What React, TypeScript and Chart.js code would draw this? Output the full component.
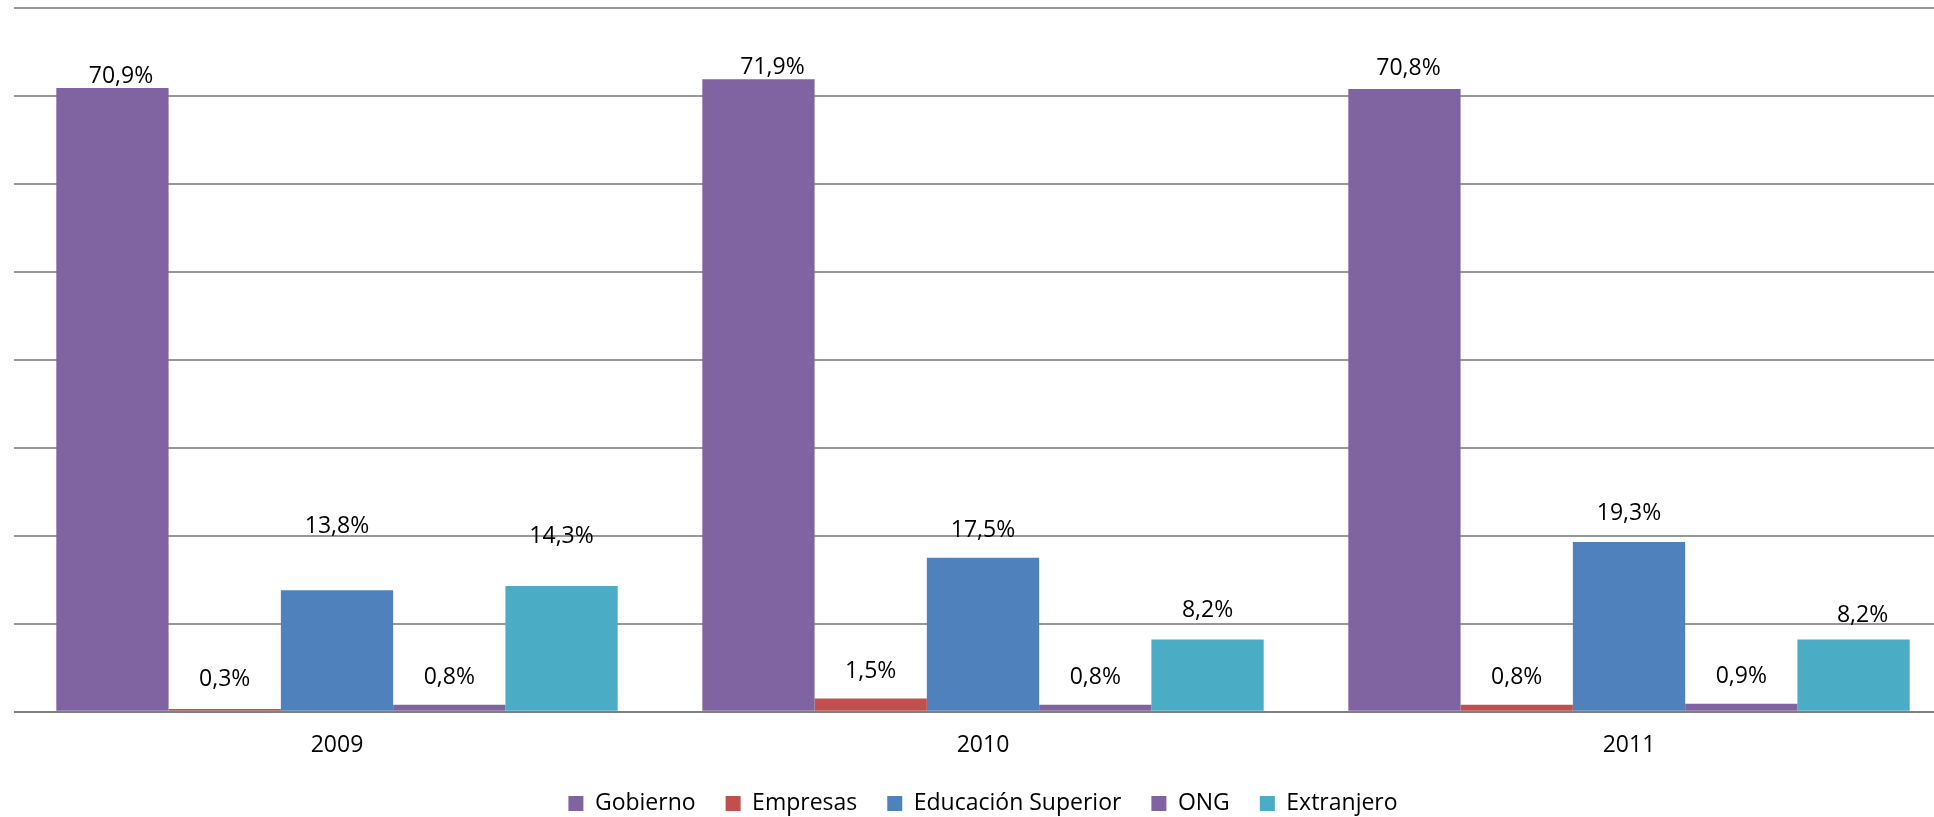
import React, { useEffect, useRef } from "react";
import { Chart, registerables } from "chart.js";

Chart.register(...registerables);

// ---- data ----
const categories = ["2009", "2010", "2011"];
const seriesNames = ["Gobierno", "Empresas", "Educación Superior", "ONG", "Extranjero"];
const gobierno = [70.9, 71.9, 70.8];
const empresas = [0.3, 1.5, 0.8];
const educacionSuperior = [13.8, 17.5, 19.3];
const ong = [0.8, 0.8, 0.9];
const extranjero = [14.3, 8.2, 8.2];
const yMin = 0;
const yMax = 80;
const yStep = 10;

// ---- styles ----
const seriesColors = ["#8064A2", "#C0504D", "#4F81BD", "#8064A2", "#4BACC6"];
const FONT = "'Open Sans', Lato, sans-serif";
const FONT_SIZE = 23;
// label placement tweaks (pixels above bar top, horizontal shift), per series then per category
const labelLift = [
  [11.6, 11.5, 20],
  [29.4, 27.5, 27.6],
  [63.6, 27.4, 28.9],
  [27.6, 27.6, 27.8],
  [49.4, 29.1, 24.1],
];
const labelShiftX = [
  [8.5, 14, 4],
  [0, 0, 0],
  [0, 0, 0],
  [0, 0, 0],
  [0, 0, 9],
];

const fmt = (v: number) => v.toFixed(1).replace(".", ",") + "%";

const valueLabels = {
  id: "valueLabels",
  afterDatasetsDraw(chart: any) {
    const ctx = chart.ctx;
    ctx.save();
    ctx.font = `${FONT_SIZE}px ${FONT}`;
    ctx.fillStyle = "#000000";
    ctx.textAlign = "center";
    ctx.textBaseline = "middle";
    chart.data.datasets.forEach((ds: any, di: number) => {
      const meta = chart.getDatasetMeta(di);
      meta.data.forEach((bar: any, i: number) => {
        const v = ds.data[i] as number;
        ctx.fillText(fmt(v), bar.x + labelShiftX[di][i], bar.y - labelLift[di][i]);
      });
    });
    ctx.restore();
  },
};

export default function App() {
  const ref = useRef<HTMLCanvasElement | null>(null);

  useEffect(() => {
    if (!ref.current) return;
    Chart.defaults.font.family = FONT;
    const seriesData = [gobierno, empresas, educacionSuperior, ong, extranjero];
    const chart = new Chart(ref.current, {
      type: "bar",
      data: {
        labels: categories,
        datasets: seriesNames.map((name, i) => ({
          label: name,
          data: seriesData[i],
          backgroundColor: seriesColors[i],
          borderWidth: 0,
          categoryPercentage: 0.869,
          barPercentage: 1.0,
        })),
      },
      options: {
        responsive: false,
        animation: false,
        devicePixelRatio: 1,
        layout: { padding: { left: 14, right: 8, top: 8, bottom: 0 } },
        plugins: {
          tooltip: { enabled: false },
          legend: {
            position: "bottom",
            labels: {
              boxWidth: 15,
              boxHeight: 15,
              padding: 30,
              color: "#000000",
              font: { size: FONT_SIZE, family: FONT },
            },
          },
        },
        scales: {
          x: {
            grid: { display: false, drawTicks: false },
            border: { display: false },
            ticks: { color: "#000000", font: { size: FONT_SIZE, family: FONT }, padding: 20 },
            afterFit: (scale: any) => {
              scale.height = 50.3;
            },
          },
          y: {
            min: yMin,
            max: yMax,
            ticks: { display: false, stepSize: yStep },
            grid: {
              drawTicks: false,
              lineWidth: 2,
              color: (c: any) => (c.tick && c.tick.value === 0 ? "#808080" : "#979797"),
            },
            border: { display: false },
            afterFit: (scale: any) => {
              scale.width = 0;
            },
          },
        },
      },
      plugins: [valueLabels],
    });
    return () => chart.destroy();
  }, []);

  return (
    <div
      style={{
        position: "fixed",
        left: 0,
        top: 0,
        width: 1934,
        height: 817,
        overflow: "hidden",
        background: "#ffffff",
      }}
    >
      <canvas ref={ref} width={1960} height={825} style={{ display: "block" }} />
    </div>
  );
}
